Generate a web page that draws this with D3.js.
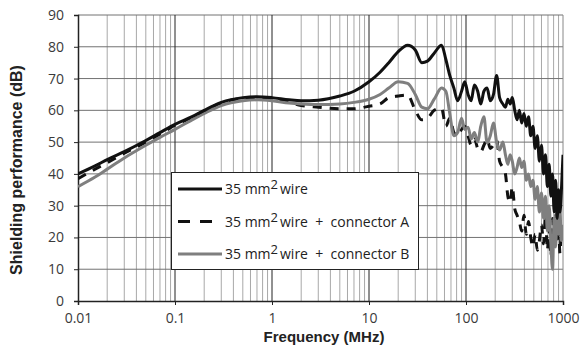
<!DOCTYPE html>
<html>
<head>
<meta charset="utf-8">
<script src="https://cdn.jsdelivr.net/npm/d3@7"></script>
<style>
  html, body { margin: 0; padding: 0; background: #fff; }
  svg { display: block; }
</style>
</head>
<body>
<div id="chart"></div>
<script>
// frequency grid (MHz) shared by the three measured curves
const freq = [0.01, 0.015, 0.02, 0.03, 0.05, 0.07, 0.1, 0.15, 0.2, 0.3, 0.5, 0.7, 1, 1.5, 2, 3, 5, 7, 10, 13, 16, 20, 25, 30, 35, 40, 47, 56, 62, 68, 75, 82, 90, 97, 105, 113, 122, 132, 142, 153, 165, 178, 192, 207, 222,
  240, 255, 270, 285, 300, 318, 336, 355, 375, 396, 418, 441, 465, 490, 516, 543, 571, 600, 630, 660, 690, 720, 750, 780, 810, 840, 870, 900, 930, 960, 1000];

const wire = [40, 42.5, 44.5, 47, 50.5, 53, 55.6, 58, 60, 62.5, 64, 64.3, 64, 63.3, 63, 63.2, 64.5, 66, 69, 72, 75, 78.5, 80.5, 79, 75, 75.5, 78, 80.5, 76, 71, 67, 63, 66, 69, 65, 63, 68, 66, 62, 66, 67, 63, 65, 71, 64,
  62, 61, 63.5, 62, 64, 60, 57, 60, 56, 59, 55, 58, 52, 55, 48, 52, 44, 49, 40, 46, 36, 43, 33, 40, 28, 38, 26, 35, 28, 34, 46];

const connA = [38.5, 41.5, 43.5, 46.5, 50, 52.5, 55.3, 57.8, 59.8, 62.3, 63.8, 64, 63.5, 62.5, 61.5, 61, 60.5, 60.5, 61.3, 62, 64, 64.5, 64.8, 60, 57, 57.5, 60, 60.7, 55, 57.5, 53, 52, 54, 55, 52, 49, 51, 48, 47, 49, 51, 48, 49, 50.6, 44,
  42, 40, 33, 31, 36, 29, 27, 25, 22, 27, 21, 25, 20, 17, 21, 16, 19, 24, 18, 27, 16, 23, 14, 26, 17, 28, 18, 24, 15, 22, 20];

const connB = [36, 39, 41.5, 45, 49, 51.5, 54, 57, 59, 61.5, 63, 63.3, 63, 62.3, 62, 61.8, 62, 62.5, 63.5, 65, 67, 69, 68.5, 65, 61, 60.5, 63.5, 67, 66, 59, 52, 53, 57.5, 54, 54.7, 51, 53, 50, 55, 58, 49.7, 52, 56, 50, 47.5,
  50, 46, 43, 46, 44, 40, 42, 45, 42, 44, 38, 40, 36, 38, 32, 36, 28, 34, 26, 33, 22, 30, 18, 10, 26, 17, 30, 21, 29, 19, 24];

const xTicks = [0.01, 0.1, 1, 10, 100, 1000];
const xTickLabels = ["0.01", "0.1", "1", "10", "100", "1000"];
const yTicks = [0, 10, 20, 30, 40, 50, 60, 70, 80, 90];

const seriesNames = ["wire", "wire + connector A", "wire + connector B"];

const width = 582, height = 345;
const margin = {top: 15, right: 19, bottom: 44, left: 78};

const svg = d3.select("#chart").append("svg")
  .attr("width", width)
  .attr("height", height);

const x = d3.scaleLog()
  .domain([0.01, 1000])
  .range([margin.left, width - margin.right]);

const y = d3.scaleLinear()
  .domain([0, 90])
  .range([height - margin.bottom, margin.top]);

// minor vertical grid (2..9 per decade)
const minor = [];
for (let d = -2; d < 3; d++) {
  for (let k = 2; k <= 9; k++) minor.push(k * Math.pow(10, d));
}
svg.append("g")
  .selectAll("line")
  .data(minor)
  .join("line")
    .attr("x1", d => x(d)).attr("x2", d => x(d))
    .attr("y1", y(0)).attr("y2", y(90))
    .attr("stroke", "#a8a8a8")
    .attr("stroke-width", 1);

// horizontal grid
svg.append("g")
  .selectAll("line")
  .data(yTicks.filter(d => d > 0))
  .join("line")
    .attr("x1", x(0.01)).attr("x2", x(1000))
    .attr("y1", d => y(d)).attr("y2", d => y(d))
    .attr("stroke", "#727272")
    .attr("stroke-width", 1);

// major vertical grid
svg.append("g")
  .selectAll("line")
  .data(xTicks.slice(1, -1))
  .join("line")
    .attr("x1", d => x(d)).attr("x2", d => x(d))
    .attr("y1", y(0)).attr("y2", y(90))
    .attr("stroke", "#222")
    .attr("stroke-width", 1);

svg.append("line")
  .attr("x1", x(1000)).attr("x2", x(1000))
  .attr("y1", y(0)).attr("y2", y(90))
  .attr("stroke", "#888");

// axes
const xAxis = svg.append("g")
  .attr("transform", `translate(0,${y(0)})`)
  .call(d3.axisBottom(x).tickValues(xTicks).tickFormat((d, i) => xTickLabels[i]).tickSize(4).tickPadding(8));

const yAxis = svg.append("g")
  .attr("transform", `translate(${x(0.01)},0)`)
  .call(d3.axisLeft(y).tickValues(yTicks).tickSize(4).tickPadding(10));

[xAxis, yAxis].forEach(a => {
  a.select(".domain").attr("stroke", "#222").attr("stroke-width", 1.5);
  a.selectAll(".tick line").attr("stroke", "#222");
  a.selectAll("text")
    .attr("font-family", "Open Sans, sans-serif")
    .attr("font-size", 14)
    .attr("fill", "#3a3a3a");
});

// curves
svg.append("clipPath").attr("id", "plot-clip")
  .append("rect")
    .attr("x", x(0.01)).attr("y", y(90))
    .attr("width", x(1000) - x(0.01)).attr("height", y(0) - y(90));

const line = vals => d3.line()
  .x((d, i) => x(freq[i]))
  .y(d => y(d))
  .curve(d3.curveMonotoneX)(vals);

const curves = svg.append("g").attr("clip-path", "url(#plot-clip)");

curves.append("path")
  .attr("d", line(connA))
  .attr("fill", "none")
  .attr("stroke", "#111")
  .attr("stroke-width", 3)
  .attr("stroke-dasharray", "9,8");

curves.append("path")
  .attr("d", line(connB))
  .attr("fill", "none")
  .attr("stroke", "#7f7f7f")
  .attr("stroke-width", 3);

curves.append("path")
  .attr("d", line(wire))
  .attr("fill", "none")
  .attr("stroke", "#111")
  .attr("stroke-width", 3);

// legend
const legend = svg.append("g");
legend.append("rect")
  .attr("x", 171.5).attr("y", 172.5)
  .attr("width", 247).attr("height", 97)
  .attr("fill", "#fff")
  .attr("stroke", "#222")
  .attr("stroke-width", 1);

const legendStyles = [
  {stroke: "#111", dash: null},
  {stroke: "#111", dash: "12,10"},
  {stroke: "#7f7f7f", dash: null}
];

seriesNames.forEach((name, i) => {
  const cy = 189 + i * 32.5;
  legend.append("line")
    .attr("x1", 178).attr("x2", 222)
    .attr("y1", cy).attr("y2", cy)
    .attr("stroke", legendStyles[i].stroke)
    .attr("stroke-width", 3)
    .attr("stroke-dasharray", legendStyles[i].dash);
  const t = legend.append("text")
    .attr("x", 225).attr("y", cy + 5)
    .attr("font-family", "Open Sans, sans-serif")
    .attr("font-size", 14)
    .attr("fill", "#222");
  t.append("tspan").text("35 mm");
  t.append("tspan").attr("dy", -5).attr("font-size", 13).text("2");
  t.append("tspan").attr("dy", 5).attr("dx", 2).text(name.replace("+", "\u00a0+\u00a0"));
});

// axis titles
svg.append("text")
  .attr("x", 324).attr("y", 342)
  .attr("text-anchor", "middle")
  .attr("font-family", "Liberation Sans, Arial, sans-serif")
  .attr("font-weight", "bold")
  .attr("font-size", 15)
  .attr("fill", "#222")
  .text("Frequency (MHz)");

svg.append("text")
  .attr("transform", "translate(22,170) rotate(-90)")
  .attr("text-anchor", "middle")
  .attr("font-family", "Liberation Sans, Arial, sans-serif")
  .attr("font-weight", "bold")
  .attr("font-size", 16)
  .attr("fill", "#222")
  .text("Shielding performance (dB)");
</script>
</body>
</html>
